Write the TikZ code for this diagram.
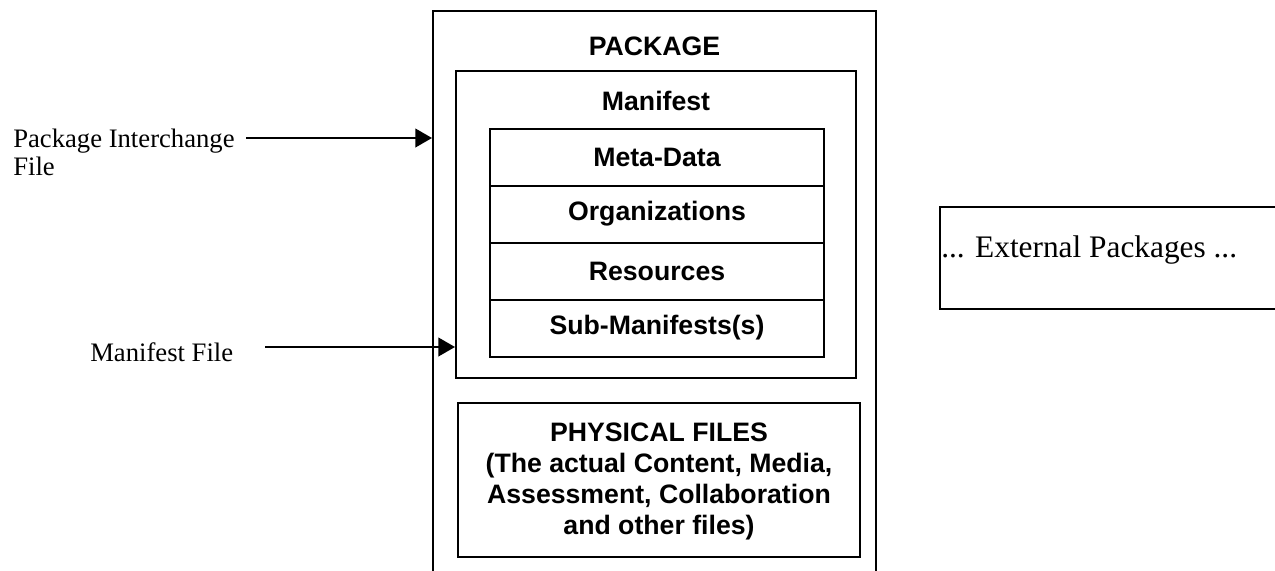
\documentclass[tikz,border=0pt]{standalone}
\usepackage{fontspec}
\setmainfont{Liberation Serif}
\setsansfont{Liberation Sans}
\usetikzlibrary{arrows.meta}
\begin{document}
\begin{tikzpicture}[x=0.75pt,y=-0.75pt,
  box/.style={draw,line width=1.5pt,inner sep=0pt},
  lbl/.style={font=\sffamily\bfseries\fontsize{20}{23.25}\selectfont,align=center,inner sep=0pt},
  serif/.style={font=\rmfamily\fontsize{20}{21}\selectfont,inner sep=0pt},
  arr/.style={line width=1.5pt,-{Triangle[length=12.5pt,width=14pt]}}]
\useasboundingbox (0,0) rectangle (1275,571);
\clip (0,0) rectangle (1275,571);
% outer package box (bottom runs off the page)
\node[box,minimum width=332.25pt,minimum height=471.75pt] (pkg) at (654.5,325.5) {};
\node[lbl] (pkgl) at (654.5,46) {PACKAGE};
% manifest
\node[box,minimum width=300pt,minimum height=230.25pt] (man) at (656,224.5) {};
\node[lbl] (manl) at (656,101) {Manifest};
\node[box,lbl,minimum width=250.5pt,minimum height=42.75pt] (meta) at (657,157) {Meta-Data};
\node[box,lbl,minimum width=250.5pt,minimum height=42.75pt] (org) at (657,214) {Organizations};
\node[box,lbl,minimum width=250.5pt,minimum height=42.75pt] (res) at (657,271) {Resources};
\node[box,lbl,minimum width=250.5pt,minimum height=42.75pt] (sub) at (657,328) {Sub-Manifests(s)};
% physical files
\node[box,minimum width=301.5pt,minimum height=115.5pt] (phys) at (659,480) {};
\node[lbl] (physl) at (659,481) {PHYSICAL FILES\\(The actual Content, Media,\\Assessment, Collaboration\\and other files)};
% external packages
\node[box,minimum width=270pt,minimum height=76.5pt] (ext) at (1120,258) {};
\node[font=\rmfamily\fontsize{23.5}{26}\selectfont,inner sep=0pt,anchor=base west] (extl) at (941,257) {... External Packages ...};
% left labels and arrows
\node[serif,align=left,anchor=north west] (pif) at (13,129) {Package Interchange\\File};
\node[serif,anchor=base west] (mf) at (90,361) {Manifest File};
\coordinate (a1) at (246,138);
\coordinate (a2) at (265,347);
\draw[arr] (a1) -- (a1 -| pkg.west);
\draw[arr] (a2) -- (a2 -| man.west);
\end{tikzpicture}
\end{document}
